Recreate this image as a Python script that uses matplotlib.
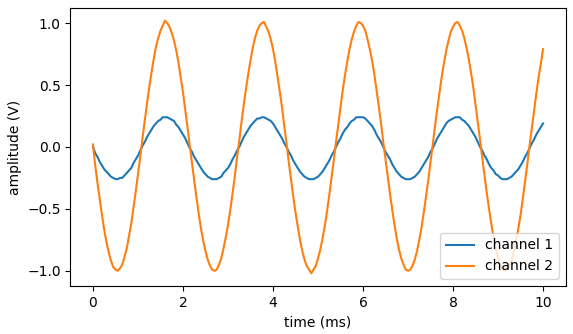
import numpy as np
import matplotlib.pyplot as plt
from matplotlib.ticker import MultipleLocator

# samples every 0.05 ms
time_ms = np.arange(201) / 20

channel_1 = [
    0.00, -0.05, -0.08, -0.12, -0.15, -0.18, -0.20, -0.22, -0.24, -0.25,
    -0.26, -0.26, -0.25, -0.25, -0.23, -0.21, -0.19, -0.17, -0.13, -0.10,
    -0.07, -0.03, 0.01, 0.04, 0.08, 0.11, 0.14, 0.17, 0.19, 0.21,
    0.22, 0.24, 0.24, 0.24, 0.23, 0.22, 0.21, 0.18, 0.16, 0.13,
    0.10, 0.07, 0.03, -0.01, -0.04, -0.08, -0.11, -0.14, -0.17, -0.20,
    -0.22, -0.24, -0.25, -0.26, -0.26, -0.26, -0.25, -0.24, -0.21, -0.19,
    -0.17, -0.14, -0.10, -0.07, -0.03, 0.00, 0.04, 0.08, 0.11, 0.14,
    0.17, 0.19, 0.21, 0.23, 0.23, 0.24, 0.24, 0.23, 0.22, 0.21,
    0.19, 0.16, 0.13, 0.10, 0.07, 0.03, 0.00, -0.04, -0.07, -0.11,
    -0.14, -0.17, -0.20, -0.22, -0.24, -0.25, -0.26, -0.26, -0.26, -0.25,
    -0.24, -0.22, -0.20, -0.17, -0.14, -0.11, -0.07, -0.04, 0.00, 0.04,
    0.07, 0.11, 0.14, 0.16, 0.19, 0.21, 0.22, 0.24, 0.24, 0.24,
    0.24, 0.23, 0.21, 0.19, 0.17, 0.14, 0.10, 0.07, 0.04, 0.00,
    -0.04, -0.07, -0.10, -0.14, -0.17, -0.20, -0.22, -0.24, -0.25, -0.26,
    -0.26, -0.26, -0.25, -0.24, -0.22, -0.20, -0.17, -0.14, -0.11, -0.08,
    -0.04, -0.01, 0.03, 0.07, 0.10, 0.13, 0.16, 0.19, 0.21, 0.22,
    0.23, 0.24, 0.24, 0.24, 0.22, 0.21, 0.19, 0.17, 0.14, 0.11,
    0.08, 0.04, 0.00, -0.03, -0.07, -0.10, -0.14, -0.17, -0.19, -0.22,
    -0.23, -0.25, -0.26, -0.26, -0.26, -0.25, -0.24, -0.22, -0.20, -0.18,
    -0.15, -0.12, -0.08, -0.05, -0.01, 0.03, 0.06, 0.10, 0.13, 0.16,
    0.19,
]

channel_2 = [
    0.02, -0.15, -0.29, -0.42, -0.55, -0.67, -0.77, -0.85, -0.92, -0.97,
    -0.99, -1.00, -0.98, -0.95, -0.89, -0.82, -0.72, -0.62, -0.49, -0.36,
    -0.22, -0.08, 0.07, 0.21, 0.35, 0.48, 0.60, 0.71, 0.81, 0.88,
    0.94, 0.98, 1.02, 1.00, 0.97, 0.92, 0.86, 0.78, 0.68, 0.56,
    0.44, 0.30, 0.16, 0.01, -0.13, -0.27, -0.41, -0.54, -0.66, -0.76,
    -0.84, -0.91, -0.96, -0.99, -1.00, -0.99, -0.95, -0.90, -0.82, -0.73,
    -0.63, -0.51, -0.38, -0.24, -0.09, 0.05, 0.20, 0.34, 0.47, 0.59,
    0.70, 0.80, 0.88, 0.94, 0.98, 1.00, 1.01, 0.97, 0.93, 0.87,
    0.79, 0.69, 0.57, 0.45, 0.32, 0.17, 0.03, -0.12, -0.26, -0.40,
    -0.53, -0.64, -0.75, -0.84, -0.91, -0.96, -0.99, -1.02, -0.99, -0.96,
    -0.90, -0.83, -0.74, -0.64, -0.52, -0.39, -0.25, -0.11, 0.04, 0.18,
    0.32, 0.46, 0.58, 0.69, 0.79, 0.87, 0.93, 0.98, 1.01, 1.00,
    0.98, 0.94, 0.87, 0.79, 0.70, 0.59, 0.46, 0.33, 0.19, 0.04,
    -0.10, -0.24, -0.38, -0.51, -0.63, -0.74, -0.83, -0.90, -0.95, -0.99,
    -1.00, -0.99, -0.96, -0.91, -0.84, -0.75, -0.65, -0.53, -0.40, -0.27,
    -0.12, 0.02, 0.17, 0.31, 0.44, 0.57, 0.68, 0.78, 0.86, 0.93,
    0.97, 1.00, 1.01, 0.98, 0.94, 0.88, 0.80, 0.71, 0.60, 0.48,
    0.34, 0.20, 0.06, -0.09, -0.23, -0.37, -0.50, -0.62, -0.73, -0.82,
    -0.89, -0.95, -0.99, -1.00, -0.99, -0.96, -0.92, -0.85, -0.76, -0.66,
    -0.55, -0.42, -0.28, -0.14, 0.01, 0.15, 0.29, 0.43, 0.56, 0.67,
    0.79,
]

fig, ax = plt.subplots(figsize=(5.73, 3.34), dpi=100)
ax.plot(time_ms, channel_1, label="channel 1")
ax.plot(time_ms, channel_2, label="channel 2")
ax.yaxis.set_major_locator(MultipleLocator(0.5))
ax.set_xlabel("time (ms)")
ax.set_ylabel("amplitude (V)")
ax.legend(loc="lower right")
fig.subplots_adjust(left=0.123, right=0.987, top=0.976, bottom=0.144)
fig.savefig("out.png")
